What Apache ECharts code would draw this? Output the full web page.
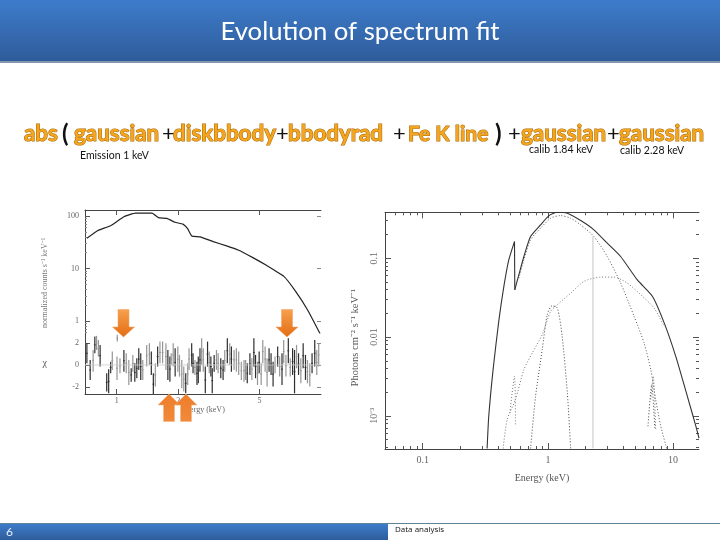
<!DOCTYPE html>
<html><head><meta charset="utf-8">
<style>html,body{margin:0;padding:0;background:#fff}#c{width:720px;height:540px}</style>
<script src="https://cdn.jsdelivr.net/npm/echarts@6/dist/echarts.min.js"></script>
</head><body><div id="c"></div>
<script>
// ---- left panel: count spectrum, energy in keV / counts
const countsEnergy=[0.715,0.806,0.935,1.085,1.237,1.49,1.60,1.76,1.93,2.11,2.22,2.33,2.56,2.97,3.45,3.93,4.64,5.38,6.6,7.5,8.6,9.9];
const countsValue=[37.6,52.5,65.4,97,113,113,93,90,76,70,58,41.6,40,32.5,27,22.5,16.1,11.6,7,3.7,1.62,0.57];
// ---- left panel: residuals (chi), one entry per energy bin
const resEnergy=[0.715,0.742,0.767,0.782,0.797,0.814,0.830,0.894,0.914,0.935,0.952,1.004,1.007,1.038,1.085,1.114,1.147,1.178,1.2,1.227,1.255,1.283,1.312,1.342,1.403,1.446,1.478,1.512,1.546,1.587,1.629,1.678,
1.742,1.781,1.822,1.849,1.891,1.933,1.992,2.03,2.083,2.13,2.178,2.227,2.261,2.329,2.365,2.417,2.472,2.509,2.557,2.606,2.654,2.715,2.785,2.839,2.891,2.936,3.0,3.08,3.138,3.233,3.318,3.38,3.48,3.576,3.643,3.755,3.854,3.956,4.075,4.2,
4.276,4.356,4.489,4.588,4.694,4.783,4.889,4.982,5.096,5.189,5.328,5.447,5.57,5.696,5.828,5.959,6.136,6.276,6.445,6.568,6.737,6.919,7.071,7.261,7.422,7.591,7.764,7.967,8.179,8.395,8.585,8.813,9.042,9.321,9.536,9.744];
const resHigh=[1.97,0.45,1.36,2.58,2.64,2.27,1.82,-0.76,-0.39,0.30,1.21,0.76,2.73,0.61,1.36,1.06,0.45,-0.30,0.91,0.15,0.61,1.52,1.06,0.45,1.82,1.97,1.21,-0.76,0.15,1.67,2.12,2.12,
1.97,1.36,0.76,1.06,1.97,1.52,1.67,0.91,0.45,-0.15,-0.76,0.15,1.52,1.97,1.06,0.45,0.30,0.76,1.52,2.42,1.52,-0.15,2.12,1.21,0.76,-0.30,0.91,1.36,1.06,0.61,0.45,1.36,2.42,1.97,1.67,1.36,1.52,1.21,0.30,0.45,
0.45,0.15,1.06,0.61,2.42,0.91,0.30,1.21,0.15,2.27,1.67,0.61,1.52,1.06,0.30,0.76,1.67,0.76,1.06,2.27,0.91,2.42,0.61,1.52,1.36,1.82,1.06,0.61,1.97,0.91,0.45,0.15,1.06,2.27,1.36,1.97];
const resLow=[0.15,-1.36,-0.61,1.06,1.36,0.76,-0.15,-2.42,-2.58,-0.76,-0.45,-1.36,2.12,-0.76,-0.61,-0.76,-1.82,-1.52,-0.61,-1.52,-1.21,-0.45,-1.36,-1.36,-0.15,0,-0.91,-2.73,-1.97,-0.15,0.15,0.15,
-0.45,-1.36,-1.52,0,-0.15,-1.06,-0.61,-1.06,-2.12,-2.42,-2.58,-1.82,-0.45,-0.15,-0.76,-0.91,-1.82,-1.67,-0.61,0,-0.61,-2.58,-0.15,-0.76,-1.06,-2.58,-0.61,-0.45,-0.76,-1.21,-1.36,-0.61,0.15,0,-0.61,-0.45,-0.61,-0.91,-1.36,-1.52,
-1.36,-1.67,-0.91,-1.36,-0.15,-1.21,-1.82,-0.76,-1.82,0.15,-0.61,-1.97,-0.61,-0.91,-1.97,-0.76,-0.15,-1.06,-1.82,0.15,-1.06,0.15,-1.06,-0.91,-2.58,-0.30,-0.91,-1.67,-0.30,-1.36,-1.67,-1.97,-0.76,-0.15,-0.91,-0.15];
const resDark=[1,1,0,1,0,0,1,1,1,1,0,0,0,0,1,0,0,1,0,1,1,1,1,0,0,0,1,1,0,1,0,0,
0,1,1,0,0,1,0,0,0,0,1,0,0,1,1,0,1,1,1,0,0,1,1,0,1,1,1,0,0,1,1,0,1,0,1,0,0,0,0,0,
0,1,1,0,1,1,0,1,0,0,0,0,1,1,1,0,1,0,1,0,0,1,0,1,1,0,1,0,1,1,0,0,1,1,0,0];
// ---- right panel: model components, energy in keV / photons
const totalRise=[[0.327,3.86e-4],[0.337,9.9e-4],[0.365,0.00386],[0.405,0.0158],[0.445,0.0438],[0.487,0.095],[0.541,0.1625]];
const totalFall=[[0.544,0.0398],[0.586,0.0615],[0.643,0.105],[0.727,0.188],[0.873,0.264],[1.02,0.347],[1.19,0.382],[1.43,0.372],[1.83,0.30],[2.33,0.229],[2.98,0.155],[3.81,0.105],[5.18,0.053],[6.85,0.0327],[8.5,0.015],[10.5,0.00569],[13.0,0.00177],[15.2,7.4e-4],[16.1,5.2e-4]];
const diskCurve=[[0.586,0.0558],[0.643,0.0953],[0.727,0.171],[0.873,0.24],[1.05,0.321],[1.26,0.347],[1.52,0.321],[1.83,0.264],[2.33,0.188],[2.98,0.105],[3.81,0.0483],[4.88,0.0183],[5.86,0.0084],[6.63,0.00386],[7.26,0.00161],[7.97,7.4e-4],[8.89,3.86e-4]];
const bbodyCurve=[[0.439,3.86e-4],[0.473,9e-4],[0.551,0.00161],[0.643,0.00386],[0.75,0.00627],[0.901,0.0107],[1.05,0.0211],[1.19,0.0257],[1.52,0.036],[1.94,0.0507],[2.64,0.0575],[3.37,0.0575],[4.31,0.0483],[5.52,0.0343],[7.05,0.0233],[8.5,0.0136]];
const softLine=[[0.727,3.86e-4],[0.797,0.00177],[0.901,0.00692],[0.988,0.0192],[1.08,0.0249],[1.19,0.0233],[1.3,0.0102],[1.43,0.00195],[1.52,3.86e-4]];
const oxygenLine=[[0.497,0.00109],[0.541,0.00318],[0.551,7.4e-4]];
const ironLineA=[[6.3,7.4e-4],[6.75,0.00249],[7.15,6.7e-4]];
const ironLineB=[[6.63,0.00161],[6.94,0.00318],[7.26,6.7e-4]];
const calibLine=[[2.29,0.188],[2.29,3.86e-4]];
// ---- tick labels
const leftEnergyTicks=[1,2,5];
const countTicks=[1,10,100];
const countMinor=[0.6,0.7,0.8,0.9,2,3,4,5,6,7,8,9,20,30,40,50,60,70,80,90];
const chiTicks=[-2,0,2];
const rightEnergyTicks=[0.1,1,10];
const rightEnergyMinor=[0.06,0.07,0.08,0.09,0.2,0.3,0.4,0.5,0.6,0.7,0.8,0.9,2,3,4,5,6,7,8,9];
const photonTicks=[0.001,0.01,0.1];
const photonMinor=[4e-4,5e-4,6e-4,7e-4,8e-4,9e-4,0.002,0.003,0.004,0.005,0.006,0.007,0.008,0.009,0.02,0.03,0.04,0.05,0.06,0.07,0.08,0.09,0.2,0.3];
const formulaParts=[["abs",24,1],["(",62,0],["gaussian",74,1],["+",162,0],["diskbbody",173,1],["+",276,0],["bbodyrad",288,1],["+",393,0],["Fe K line",408,1],[")",495,0],["+",508,0],["gaussian",521,1],["+",607,0],["gaussian",619,1]];
const notes=[["Emission 1 keV",80,156],["calib 1.84 keV",529,150],["calib 2.28 keV",620,151]];

const INK='#444',SERIF='"Liberation Serif"';
const txt={fontFamily:SERIF,color:'#666'};
function ax(o){
  const ticks=o.ticks||[];
  return Object.assign({type:'value',scale:true,
    axisLine:{show:!!o.line,onZero:false,lineStyle:{color:INK,width:1}},
    axisTick:{show:ticks.length>0,inside:true,length:o.len||5,customValues:ticks,lineStyle:{color:o.tickColor||'#555',width:1}},
    axisLabel:o.labels?Object.assign({show:true,customValues:o.labels,fontSize:o.fs||9,margin:o.margin||4,rotate:o.rotate||0,formatter:o.fmt},txt):{show:false},
    splitLine:{show:false},minorTick:{show:false},minorSplitLine:{show:false}
  },o.base);
}
const xAxes=[
  ax({base:{type:'log',gridIndex:0,position:'top',min:0.7,max:10},line:true,ticks:leftEnergyTicks}),
  ax({base:{type:'log',gridIndex:1,position:'bottom',min:0.7,max:10,name:'Energy (keV)',nameLocation:'middle',nameGap:11,nameTextStyle:{fontFamily:SERIF,color:'#666',fontSize:8}},line:true,ticks:leftEnergyTicks,labels:leftEnergyTicks,fs:8,margin:3}),
  ax({base:{type:'log',gridIndex:2,position:'bottom',min:0.05,max:16.1,name:'Energy (keV)',nameLocation:'middle',nameGap:24,nameTextStyle:{fontFamily:SERIF,color:'#555',fontSize:10}},line:true,ticks:rightEnergyTicks,labels:rightEnergyTicks,fs:10,margin:6,len:6,fmt:v=>String(+(+v).toPrecision(2))}),
  ax({base:{type:'log',gridIndex:2,position:'top',min:0.05,max:16.1},line:true,ticks:rightEnergyTicks,len:6}),
  ax({base:{type:'log',gridIndex:2,position:'bottom',min:0.05,max:16.1},ticks:rightEnergyMinor,len:3}),
  ax({base:{type:'log',gridIndex:2,position:'top',min:0.05,max:16.1},ticks:rightEnergyMinor,len:3})
];
const yAxes=[
  ax({base:{type:'log',gridIndex:0,position:'left',min:0.59,max:130,name:'normalized counts s⁻¹ keV⁻¹',nameLocation:'middle',nameGap:36,nameRotate:90,nameTextStyle:{fontFamily:SERIF,color:'#777',fontSize:8,padding:[0,23,0,0]}},line:true,ticks:countTicks,labels:countTicks,fs:8,margin:6,fmt:v=>String(Math.round(+v))}),
  ax({base:{type:'value',gridIndex:1,position:'left',min:-2.64,max:2.9,name:'χ',nameLocation:'middle',nameGap:38,nameRotate:0,nameTextStyle:{fontFamily:SERIF,color:'#555',fontSize:10}},line:true,ticks:chiTicks,labels:chiTicks,fs:8,margin:6}),
  ax({base:{type:'log',gridIndex:2,position:'left',min:3.8e-4,max:0.382,name:'Photons cm⁻² s⁻¹ keV⁻¹',nameLocation:'middle',nameGap:24,nameRotate:90,nameTextStyle:{fontFamily:SERIF,color:'#555',fontSize:10.5,padding:[0,14,0,0]}},line:true,ticks:photonTicks,labels:photonTicks,fs:10,rotate:90,margin:6,len:6,fmt:v=>(+v<0.005?'10⁻³':String(+(+v).toPrecision(1)))}),
  ax({base:{type:'log',gridIndex:2,position:'right',min:3.8e-4,max:0.382},ticks:photonTicks,len:6}),
  ax({base:{type:'log',gridIndex:2,position:'left',min:3.8e-4,max:0.382},ticks:photonMinor,len:3}),
  ax({base:{type:'log',gridIndex:2,position:'right',min:3.8e-4,max:0.382},ticks:photonMinor,len:3}),
  ax({base:{type:'log',gridIndex:0,position:'right',min:0.59,max:130},ticks:countTicks,len:4,tickColor:'#888'}),
  ax({base:{type:'log',gridIndex:0,position:'left',min:0.59,max:130},ticks:countMinor,len:2,tickColor:'#888'}),
  ax({base:{type:'value',gridIndex:1,position:'right',min:-2.64,max:2.9},ticks:chiTicks,len:4,tickColor:'#888'})
];
const dotted=(data,c)=>({type:'line',xAxisIndex:2,yAxisIndex:2,data,smooth:0.25,symbol:'none',silent:true,clip:true,lineStyle:{color:c||'#555',width:1,type:[1,2]}});
const solidRight=(data,smooth)=>({type:'line',xAxisIndex:2,yAxisIndex:2,data,smooth,symbol:'none',clip:true,lineStyle:{color:'#333',width:1.1}});
const residuals=resEnergy.map((e,i)=>[e,resLow[i],resHigh[i],resDark[i]]);
const series=[
  {type:'line',xAxisIndex:0,yAxisIndex:0,data:countsEnergy.map((e,i)=>[e,countsValue[i]]),smooth:0.12,symbol:'none',clip:true,lineStyle:{color:'#222',width:1.2}},
  {type:'line',xAxisIndex:1,yAxisIndex:1,data:[[0.7,0],[10,0]],symbol:'none',lineStyle:{color:'#ccc',width:0.8}},
  {type:'custom',xAxisIndex:1,yAxisIndex:1,data:residuals,clip:true,silent:true,encode:{x:0,y:[1,2]},
   renderItem(p,api){
     const e=api.value(0),lo=api.value(1),hi=api.value(2),dark=api.value(3);
     const a=api.coord([e,hi]),b=api.coord([e,lo]);
     const l=api.coord([e*0.99,(hi+lo)/2]),r=api.coord([e*1.01,(hi+lo)/2]);
     const col=dark?'#2e2e2e':'#959595';
     return {type:'group',children:[
       {type:'line',shape:{x1:a[0],y1:a[1],x2:b[0],y2:b[1]},style:{stroke:col,lineWidth:1.2}},
       {type:'line',shape:{x1:l[0],y1:l[1],x2:r[0],y2:r[1]},style:{stroke:col,lineWidth:1}}]};
   }},
  {type:'line',xAxisIndex:2,yAxisIndex:2,data:calibLine,symbol:'none',lineStyle:{color:'#c4c4c4',width:1}},
  solidRight(totalRise,0.2),
  solidRight([totalRise[totalRise.length-1],totalFall[0]],false),
  solidRight(totalFall,0.2),
  dotted(diskCurve,'#555'),dotted(bbodyCurve,'#777'),dotted(softLine,'#444'),
  dotted(oxygenLine,'#777'),dotted(ironLineA,'#444'),dotted(ironLineB,'#777')
];
const downArrow=(cx)=>({type:'polygon',z:50,shape:{points:[[cx-5.5,309.5],[cx+5.5,309.5],[cx+5.5,327],[cx+11,327],[cx,337],[cx-11,327],[cx-5.5,327]]},
  style:{fill:new echarts.graphic.LinearGradient(0,0,0,1,[{offset:0,color:'#f7a14e'},{offset:1,color:'#e36c12'}]),stroke:'#f0a060',lineWidth:0.5}});
const upArrow=(cx)=>({type:'polygon',z:50,shape:{points:[[cx,394],[cx+11,405],[cx+5.5,405],[cx+5.5,421.5],[cx-5.5,421.5],[cx-5.5,405],[cx-11,405]]},
  style:{fill:new echarts.graphic.LinearGradient(0,0,0,1,[{offset:0,color:'#ee7d2a'},{offset:1,color:'#f08a3a'}]),stroke:'#f5b080',lineWidth:0.5}});
const blue=(a,b)=>new echarts.graphic.LinearGradient(0,0,0,1,[{offset:0,color:a},{offset:1,color:b}]);
const graphics=[
  {type:'rect',z:40,shape:{x:0,y:0,width:720,height:61},style:{fill:blue('#3d7ccb','#2f5c9a')}},
  {type:'rect',z:40,shape:{x:0,y:61,width:720,height:2},style:{fill:'#8597b0'}},
  {type:'text',z:41,style:{text:'Evolution of spectrum fit',x:360,y:32,align:'center',verticalAlign:'middle',font:'25.7px Lato',fill:'#fff'}},
  {type:'rect',z:40,shape:{x:0,y:523,width:720,height:1},style:{fill:'#5f8299'}},
  {type:'rect',z:40,shape:{x:0,y:524,width:388,height:16},style:{fill:blue('#3d7ccb','#2f5c9a')}},
  {type:'text',z:41,style:{text:'6',x:6,y:532,verticalAlign:'middle',font:'12px Lato',fill:'#e8f0ff'}},
  {type:'text',z:41,style:{text:'Data analysis',x:395,y:530,verticalAlign:'middle',font:'8px "Open Sans"',fill:'#111'}},
  ...formulaParts.map(p=>({type:'text',z:41,style:{text:p[0],x:p[1],y:134,verticalAlign:'middle',
    font:(p[2]?(p[0]==='Fe K line'?'bold 21px Lato':'bold 22.4px Lato'):(p[0]==='+'?'22px Lato':'bold 24px Lato')),
    fill:p[2]?'#f5a51c':'#111',stroke:p[2]?'#a96a0a':null,lineWidth:p[2]?1.1:0}})),
  ...notes.map(n=>({type:'text',z:41,style:{text:n[0],x:n[1],y:n[2],verticalAlign:'middle',font:'10.5px Lato',fill:'#111'}})),
  downArrow(123.5),downArrow(287),upArrow(169),upArrow(186)
];
const chart=echarts.init(document.getElementById('c'),null,{renderer:'canvas'});
chart.setOption({animation:false,backgroundColor:'#fff',
  grid:[{left:85,top:210,width:236,height:123},{left:85,top:333,width:236,height:61},{left:385,top:212.3,width:314,height:236.7}],
  xAxis:xAxes,yAxis:yAxes,series,graphic:graphics});
</script></body></html>
